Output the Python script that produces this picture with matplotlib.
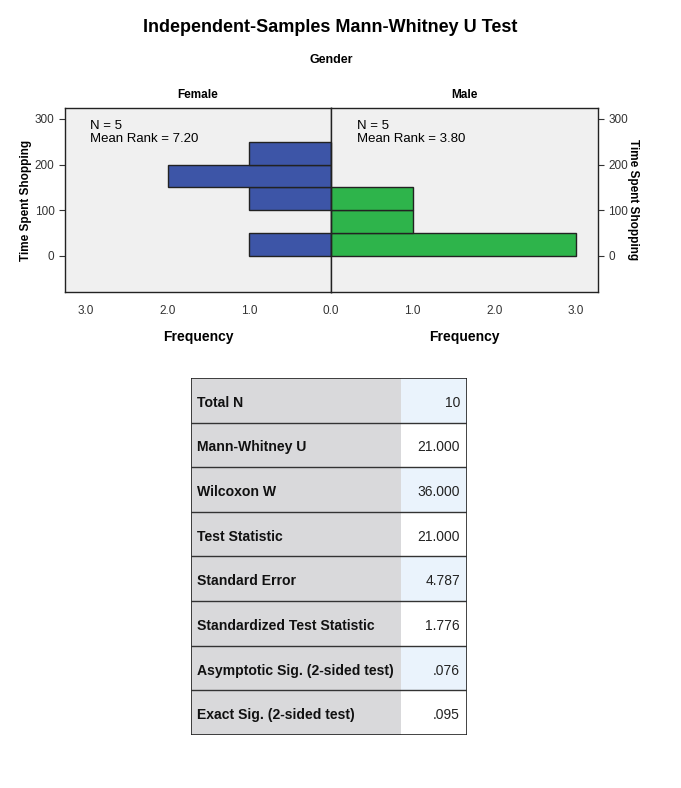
import numpy as np
import matplotlib.pyplot as plt
from matplotlib.patches import Rectangle

plt.rcParams['font.family'] = ['Liberation Sans', 'DejaVu Sans']

# histogram bins of Time Spent Shopping
bin_edges = [0, 50, 100, 150, 200, 250]
female_counts = [1, 0, 1, 2, 1]
male_counts = [3, 1, 1, 0, 0]
female_rank = 7.20
male_rank = 3.80
n_female = 5
n_male = 5

stat_labels = ['Total N', 'Mann-Whitney U', 'Wilcoxon W', 'Test Statistic',
               'Standard Error', 'Standardized Test Statistic',
               'Asymptotic Sig. (2-sided test)', 'Exact Sig. (2-sided test)']
stat_values = ['10', '21.000', '36.000', '21.000', '4.787', '1.776', '.076', '.095']

W, H = 681, 788
fig = plt.figure(figsize=(W / 100, H / 100), dpi=100)

def fx(px):
    return px / W

def fy(py):
    return 1 - py / H

blue = '#3D55A7'
green = '#2EB44B'
panel_bg = '#F0F0F0'
edge = '#222222'

top, bot = 108, 292
axf = fig.add_axes([fx(65), fy(bot), fx(331 - 65), (bot - top) / H])
axm = fig.add_axes([fx(331), fy(bot), fx(598 - 331), (bot - top) / H], sharey=axf)

heights = np.diff(bin_edges)
lows = np.array(bin_edges[:-1])
for ax, counts, color in [(axf, female_counts, blue), (axm, male_counts, green)]:
    ax.set_facecolor(panel_bg)
    ax.barh(lows, counts, height=heights, align='edge', color=color,
            edgecolor=edge, linewidth=1.0)
    ax.set_ylim(-79, 324)
    ax.set_yticks([0, 100, 200, 300])
    ax.tick_params(axis='x', length=0, labelsize=8.5, colors='#333333', pad=9)
    ax.tick_params(axis='y', length=4, labelsize=8.5, colors='#333333', width=0.8)
    for s in ax.spines.values():
        s.set_color(edge)
        s.set_linewidth(1.0)
    ax.set_xlabel('Frequency', fontsize=10, fontweight='bold', labelpad=10)

axf.set_xticks([1, 2, 3])
axf.set_xticklabels(['1.0', '2.0', '3.0'])
axm.set_xticks([0, 1, 2, 3])
axm.set_xticklabels(['0.0', '1.0', '2.0', '3.0'])

axf.set_xlim(3.26, 0)
axm.set_xlim(0, 3.27)
axf.set_ylabel('Time Spent Shopping', fontsize=8.5, fontweight='bold', labelpad=2)
axm.yaxis.tick_right()
axm.yaxis.set_label_position('right')
axm.set_ylabel('Time Spent Shopping', fontsize=8.5, fontweight='bold',
               rotation=270, labelpad=8)
axm.tick_params(axis='y', labelright=True, labelleft=False)

axf.set_title('Female', fontsize=8.5, fontweight='bold', pad=7)
axm.set_title('Male', fontsize=8.5, fontweight='bold', pad=7)

axf.text(2.95, 297, 'N = %d\nMean Rank = %.2f' % (n_female, female_rank),
         fontsize=9.5, va='top', ha='left', linespacing=1.05)
axm.text(0.32, 297, 'N = %d\nMean Rank = %.2f' % (n_male, male_rank),
         fontsize=9.5, va='top', ha='left', linespacing=1.05)

fig.text(0.5 * (fx(146) + fx(515)), fy(28), 'Independent-Samples Mann-Whitney U Test',
         fontsize=13, fontweight='bold', ha='center', va='center')
fig.text(fx(331), fy(60), 'Gender', fontsize=9, fontweight='bold',
         ha='center', va='center')

# statistics table
t_left, t_right, t_top, t_bot = 191, 467, 378, 735
split = 401
axt = fig.add_axes([fx(t_left), fy(t_bot), fx(t_right - t_left), (t_bot - t_top) / H])
axt.set_xlim(t_left, t_right)
axt.set_ylim(t_bot, t_top)
axt.axis('off')
n = len(stat_labels)
rh = (t_bot - t_top) / n
for i, (lab, val) in enumerate(zip(stat_labels, stat_values)):
    y0 = t_top + i * rh
    axt.add_patch(Rectangle((t_left, y0), split - t_left, rh, facecolor='#D9D9DB',
                            edgecolor='none'))
    axt.add_patch(Rectangle((split, y0), t_right - split, rh,
                            facecolor='#EAF3FC' if i % 2 == 0 else 'white',
                            edgecolor='none'))
    axt.text(t_left + 6, y0 + rh / 2 + 2.5, lab, fontsize=10.1, fontweight='bold',
             ha='left', va='center', color='#111111')
    axt.text(t_right - 7, y0 + rh / 2 + 2.5, val, fontsize=10, ha='right',
             va='center', color='#222222')
    if i > 0:
        axt.plot([t_left, t_right], [y0, y0], color='#333333', lw=1.0)
axt.add_patch(Rectangle((t_left, t_top), t_right - t_left, t_bot - t_top,
                        facecolor='none', edgecolor='#222222', lw=1.2))

fig.savefig('out.png', dpi=100)
